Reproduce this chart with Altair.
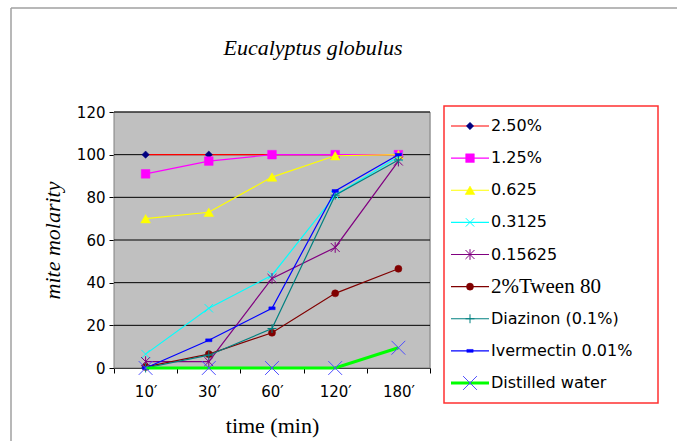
import altair as alt
import pandas as pd

title_text = "Eucalyptus globulus"
times = ["10′", "30′", "60′", "120′", "180′"]
y_ticks = [0, 20, 40, 60, 80, 100, 120]

names = ["2.50%", "1.25%", "0.625", "0.3125", "0.15625",
         "2%Tween 80", "Diazinon (0.1%)", "Ivermectin 0.01%", "Distilled water"]

v_250 = [100, 100, 100, 100, 100]
v_125 = [91, 97, 100, 100, 100]
v_0625 = [70, 73, 89.5, 99.5, 100]
v_03125 = [6.5, 28, 43.5, 81, 99]
v_015625 = [3, 3, 42, 56.5, 97]
v_tween = [0.5, 6.5, 16.5, 35, 46.5]
v_diaz = [0, 6, 18.5, 81, 97.5]
v_iver = [0, 13, 28, 83, 100]
v_water = [0, 0, 0, 0, 9.5]

values = [v_250, v_125, v_0625, v_03125, v_015625, v_tween, v_diaz, v_iver, v_water]

line_colors = ["#FF0000", "#FF00FF", "#FFFF00", "#00FFFF", "#800080",
               "#800000", "#008080", "#0000FF", "#00FF00"]
marker_colors = ["#000080", "#FF00FF", "#FFFF00", "#00FFFF", "#800080",
                 "#800000", "#008080", "#0000FF", "#4D4DFF"]
line_widths = [1.2, 1.2, 1.2, 1.2, 1.2, 1.2, 1.2, 1.2, 3]

X_PATH = "M-1,-1L1,1M-1,1L1,-1"
ASTER = "M-1,-1L1,1M-1,1L1,-1M0,-1.2L0,1.2"
PLUS = "M-1,0L1,0M0,-1L0,1"
DASH = "M-1,-0.45L1,-0.45L1,0.45L-1,0.45Z"
shapes = ["diamond", "square", "triangle-up", X_PATH, ASTER, "circle", PLUS, DASH, X_PATH]
filled = [True, True, True, False, False, True, False, True, False]
sizes = [55, 75, 95, 70, 80, 50, 80, 40, 190]

rows = []
for n, vals in zip(names, values):
    for t, v in zip(times, vals):
        rows.append({"series": n, "time": t, "value": v})
df = pd.DataFrame(rows)

TICK_FONT = "DejaVu Sans"

xenc = alt.X("time:N", sort=times,
             scale=alt.Scale(type="band", paddingInner=0, paddingOuter=0),
             axis=alt.Axis(title="time (min)", tickBand="extent", labelAngle=0,
                           labelFont=TICK_FONT, labelFontSize=15, labelColor="black",
                           titleFont="Liberation Serif", titleFontSize=22, titleFontWeight="normal",
                           titleColor="black", domainColor="black", tickColor="black",
                           tickSize=5, labelPadding=11, titlePadding=16, grid=False))
yscale = alt.Scale(domain=[0, 120], nice=False, zero=True)
yenc = alt.Y("value:Q", scale=yscale,
             axis=alt.Axis(title="mite molarity", values=y_ticks, grid=False,
                           labelFont=TICK_FONT, labelFontSize=15, labelColor="black",
                           titleFont="Liberation Serif", titleFontSize=22, titleFontStyle="italic",
                           titleFontWeight="normal", titleColor="black",
                           domainColor="black", tickColor="black", tickSize=5,
                           labelPadding=4, titlePadding=12))

one = pd.DataFrame({"k": [0]})

bg = alt.Chart(one).mark_rect(fill="#C0C0C0", stroke="#808080", strokeWidth=1).encode(
    x=alt.value(0), x2=alt.value(316), y=alt.value(0), y2=alt.value(256))

grid = alt.Chart(pd.DataFrame({"value": y_ticks[1:]})).mark_rule(
    color="black", strokeWidth=1).encode(y=yenc)

main_layers = [bg, grid]
for i, n in enumerate(names):
    d = df[df.series == n]
    base = alt.Chart(d)
    ln = base.mark_line(color=line_colors[i], strokeWidth=line_widths[i]).encode(x=xenc, y=yenc)
    if filled[i]:
        pm = base.mark_point(shape=shapes[i], size=sizes[i], filled=True,
                             fill=marker_colors[i], stroke=marker_colors[i], strokeWidth=0.5, opacity=1)
    else:
        pm = base.mark_point(shape=shapes[i], size=sizes[i], filled=False,
                             stroke=marker_colors[i], strokeWidth=1, opacity=1)
    pm = pm.encode(x=xenc, y=yenc)
    main_layers += [ln, pm]

main = alt.layer(*main_layers)

# legend (custom, drawn as layers)
legend_box = alt.Chart(one).mark_rect(fill="white", stroke="#FF3030", strokeWidth=1.5).encode(
    x=alt.value(330), x2=alt.value(544), y=alt.value(-6), y2=alt.value(291))

ly = alt.Scale(type="point", domain=names, range=[14, 271], padding=0)
legend_layers = [legend_box]
for i, n in enumerate(names):
    d = pd.DataFrame({"series": [n]})
    yl = alt.Y("series:N", scale=ly, axis=None)
    b = alt.Chart(d)
    legend_layers.append(b.mark_rule(color=line_colors[i], strokeWidth=line_widths[i]).encode(
        x=alt.value(337), x2=alt.value(375), y=yl))
    if filled[i]:
        pm = b.mark_point(shape=shapes[i], size=sizes[i], filled=True,
                          fill=marker_colors[i], stroke=marker_colors[i], strokeWidth=0.5, opacity=1)
    else:
        pm = b.mark_point(shape=shapes[i], size=sizes[i], filled=False,
                          stroke=marker_colors[i], strokeWidth=1, opacity=1)
    legend_layers.append(pm.encode(x=alt.value(356), y=yl))
    is_serif = n == "2%Tween 80"
    legend_layers.append(b.mark_text(
        align="left", baseline="middle",
        font="Liberation Serif" if is_serif else "DejaVu Sans",
        fontSize=21 if is_serif else 16, color="black").encode(
        x=alt.value(377), y=yl, text="series:N"))

legend = alt.layer(*legend_layers)

frame = alt.layer(
    alt.Chart(one).mark_rule(color="#A0A0A0", strokeWidth=1.5).encode(
        x=alt.value(-103), x2=alt.value(570), y=alt.value(-104)),
    alt.Chart(one).mark_rule(color="#A0A0A0", strokeWidth=1.5).encode(
        x=alt.value(-103), y=alt.value(-104), y2=alt.value(335)),
    alt.Chart(pd.DataFrame({"t": [title_text]})).mark_text(
        font="Liberation Serif", fontSize=22, fontStyle="italic", color="black",
        align="center", baseline="alphabetic").encode(
        x=alt.value(199), y=alt.value(-57), text="t:N"),
)

chart = alt.layer(main, legend, frame).resolve_scale(y="independent").properties(
    width=316, height=256,
    autosize=alt.AutoSizeParams(type="none"),
    padding={"left": 114, "top": 112, "right": 247, "bottom": 73},
).configure_view(stroke=None).configure(background="white")

chart.save("out.html", embed_options={"renderer": "svg", "actions": False})
